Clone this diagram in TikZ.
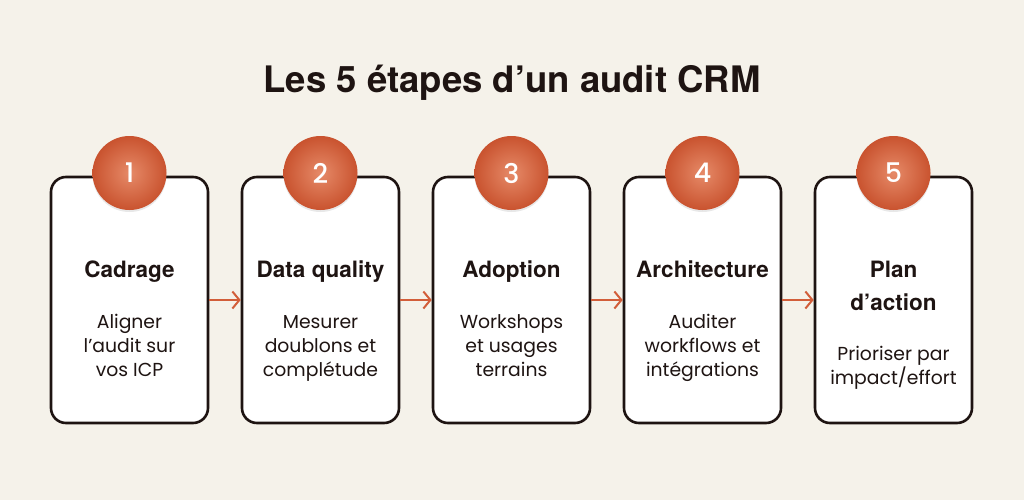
\documentclass[tikz,border=0pt]{standalone}
\usepackage{fontspec}
\setmainfont{Poppins}
\newfontfamily\headfont{TeX Gyre Heros}
\newfontfamily\numfont{Poppins Medium}
\usetikzlibrary{arrows.meta,shadows}

\definecolor{bgcream}{HTML}{F5F2EA}
\definecolor{inkbrown}{HTML}{1E1412}
\definecolor{rust}{HTML}{D25E3A}
\definecolor{rustlight}{HTML}{E68A68}
\definecolor{rustdark}{HTML}{C9532F}

\begin{document}
\begin{tikzpicture}[x=1pt,y=-1pt,
		stepbox/.style={draw=inkbrown, fill=white, line width=2.6pt, rounded corners=15pt,
			minimum width=157pt, minimum height=246pt, inner sep=0pt},
		badge/.style={circle, minimum size=74pt, inner sep=0pt, inner color=rustlight, outer color=rustdark,
			drop shadow={opacity=0.18, shadow xshift=0pt, shadow yshift=-2pt},
			text=white, font=\numfont\fontsize{27}{27}\selectfont},
		heading/.style={anchor=base, align=center, text=inkbrown,
			font=\headfont\bfseries\fontsize{22.5}{33}\selectfont},
		body/.style={anchor=base, align=center, text=inkbrown,
			font=\fontsize{18.8}{24}\selectfont},
		link/.style={draw=rust, line width=2pt, -{Straight Barb[length=7pt,width=17pt,line width=2pt]}}
	]
		%background
		\fill[bgcream] (0,0) rectangle (1024,500);
		\useasboundingbox (0,0) rectangle (1024,500);
		
		%Title (base of a node = baseline of its last line)
		\node[anchor=base, text=inkbrown, font=\headfont\bfseries\fontsize{36.5}{36.5}\selectfont] (title) at (512,93) {Les 5 étapes d’un audit CRM};
		
		%Boxes
		\node[stepbox] (b1) at (129.5,300) {};
		\node[stepbox] (b2) at (320.5,300) {};
		\node[stepbox] (b3) at (511.5,300) {};
		\node[stepbox] (b4) at (702.5,300) {};
		\node[stepbox] (b5) at (893.5,300) {};
		
		%Numbers
		\node[badge] (n1) at (129.5,173) {1};
		\node[badge] (n2) at (320.5,173) {2};
		\node[badge] (n3) at (511.5,173) {3};
		\node[badge] (n4) at (702.5,173) {4};
		\node[badge] (n5) at (893.5,173) {5};
		
		%Headings
		\node[heading] (h1) at (129.5,277) {Cadrage};
		\node[heading] (h2) at (320.5,277) {Data quality};
		\node[heading] (h3) at (511.5,277) {Adoption};
		\node[heading] (h4) at (702.5,277) {Architecture};
		\node[heading] (h5) at (893.5,310) {Plan\\d’action};
		
		%Descriptions
		\node[body] (d1) at (129.5,376) {Aligner\\l’audit sur\\vos ICP};
		\node[body] (d2) at (320.5,376) {Mesurer\\doublons et\\complétude};
		\node[body] (d3) at (511.5,376) {Workshops\\et usages\\terrains};
		\node[body] (d4) at (702.5,376) {Auditer\\workflows et\\intégrations};
		\node[body] (d5) at (893.5,384) {Prioriser par\\impact/effort};
		
		%connections
		\draw[link] (b1) -- (b2);
		\draw[link] (b2) -- (b3);
		\draw[link] (b3) -- (b4);
		\draw[link] (b4) -- (b5);
		
	\end{tikzpicture}
\end{document}
